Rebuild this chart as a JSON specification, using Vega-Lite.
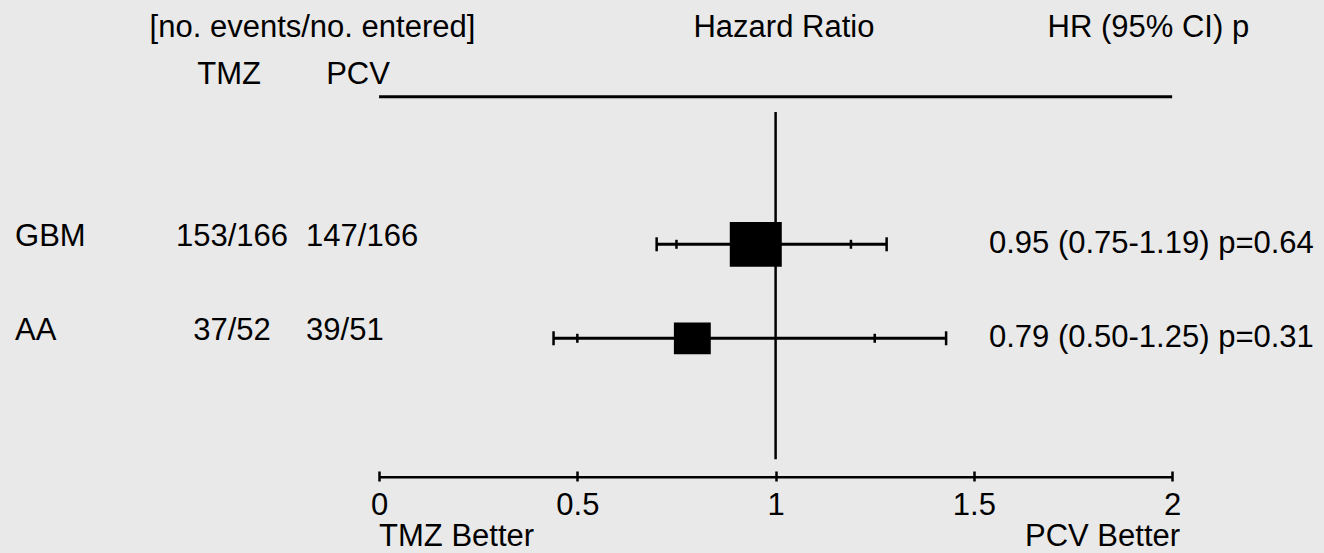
{
  "$schema": "https://vega.github.io/schema/vega-lite/v6.json",
  "width": 1324,
  "height": 471,
  "autosize": {"type": "none"},
  "padding": {"left": 0, "top": 0, "right": 0, "bottom": 82},
  "background": "#e9e9e9",
  "config": {
    "view": {"stroke": null},
    "font": "Liberation Sans",
    "text": {"font": "Liberation Sans", "fontSize": 31, "color": "black"}
  },
  "datasets": {
    "rows": [
      {"group": "GBM", "row": 1, "tmz": "153/166", "pcv": "147/166", "hr": 0.95, "lo95": 0.75, "hi95": 1.19, "lo99": 0.70, "hi99": 1.28, "events": 300, "summary": "0.95 (0.75-1.19) p=0.64"},
      {"group": "AA", "row": 2, "tmz": "37/52", "pcv": "39/51", "hr": 0.79, "lo95": 0.50, "hi95": 1.25, "lo99": 0.44, "hi99": 1.43, "events": 76, "summary": "0.79 (0.50-1.25) p=0.31"}
    ],
    "one": [{}]
  },
  "layer": [
    {
      "data": {"name": "rows"},
      "mark": {"type": "rule", "strokeWidth": 3, "color": "black"},
      "encoding": {
        "x": {"field": "lo99", "type": "quantitative", "scale": {"domain": [-0.956, 2.383], "nice": false, "zero": false},
          "axis": {"orient": "bottom", "values": [0, 0.5, 1, 1.5, 2], "format": "~g", "title": null, "domain": false, "grid": false, "ticks": true, "tickSize": 10, "tickWidth": 2.5, "tickColor": "black", "labelFont": "Liberation Sans", "labelFontSize": 31, "labelColor": "black", "labelPadding": 9, "labelFlush": false, "labelOverlap": false}},
        "x2": {"field": "hi99"},
        "y": {"field": "row", "type": "quantitative", "scale": {"domain": [-1.599, 3.412], "nice": false, "zero": false, "reverse": true}, "axis": null}
      }
    },
    {
      "data": {"name": "one"},
      "mark": {"type": "rule", "strokeWidth": 3, "color": "black"},
      "encoding": {
        "x": {"datum": 0, "type": "quantitative"},
        "x2": {"datum": 2},
        "y": {"datum": -0.570, "type": "quantitative", "axis": null}
      }
    },
    {
      "data": {"name": "one"},
      "mark": {"type": "rule", "strokeWidth": 2.5, "color": "black"},
      "encoding": {
        "x": {"datum": 1, "type": "quantitative"},
        "y": {"datum": -0.407, "type": "quantitative", "axis": null},
        "y2": {"datum": 3.287}
      }
    },
    {
      "data": {"name": "one"},
      "mark": {"type": "rule", "strokeWidth": 2.5, "color": "black"},
      "encoding": {
        "x": {"datum": 0, "type": "quantitative"},
        "x2": {"datum": 2},
        "y": {"datum": 3.479, "type": "quantitative", "axis": null}
      }
    },
    {
      "data": {"name": "rows"},
      "transform": [{"fold": ["lo99", "hi99"], "as": ["k", "v"]}],
      "mark": {"type": "tick", "orient": "vertical", "size": 14, "thickness": 2.5, "color": "black", "opacity": 1},
      "encoding": {
        "x": {"field": "v", "type": "quantitative"},
        "y": {"field": "row", "type": "quantitative", "axis": null}
      }
    },
    {
      "data": {"name": "rows"},
      "transform": [{"fold": ["lo95", "hi95"], "as": ["k", "v"]}],
      "mark": {"type": "tick", "orient": "vertical", "size": 9, "thickness": 2.5, "color": "black", "opacity": 1},
      "encoding": {
        "x": {"field": "v", "type": "quantitative"},
        "y": {"field": "row", "type": "quantitative", "axis": null}
      }
    },
    {
      "data": {"name": "rows"},
      "mark": {"type": "point", "shape": "M-1,-0.86L1,-0.86L1,0.86L-1,0.86Z", "filled": true, "color": "black", "opacity": 1, "strokeWidth": 0},
      "encoding": {
        "x": {"field": "hr", "type": "quantitative"},
        "y": {"field": "row", "type": "quantitative", "axis": null},
        "size": {"field": "events", "type": "quantitative", "scale": {"type": "sqrt", "domain": [0, 300], "range": [0, 2704], "zero": true}, "legend": null}
      }
    },
    {
      "data": {"name": "rows"},
      "mark": {"type": "text", "align": "left", "baseline": "alphabetic", "dy": 1.4},
      "encoding": {
        "x": {"datum": -0.918, "type": "quantitative"},
        "y": {"field": "row", "type": "quantitative", "axis": null},
        "text": {"field": "group"}
      }
    },
    {
      "data": {"name": "rows"},
      "mark": {"type": "text", "align": "center", "baseline": "alphabetic", "dy": 1.4},
      "encoding": {
        "x": {"datum": -0.371, "type": "quantitative"},
        "y": {"field": "row", "type": "quantitative", "axis": null},
        "text": {"field": "tmz"}
      }
    },
    {
      "data": {"name": "rows"},
      "mark": {"type": "text", "align": "left", "baseline": "alphabetic", "dy": 1.4},
      "encoding": {
        "x": {"datum": -0.184, "type": "quantitative"},
        "y": {"field": "row", "type": "quantitative", "axis": null},
        "text": {"field": "pcv"}
      }
    },
    {
      "data": {"name": "rows"},
      "mark": {"type": "text", "align": "left", "baseline": "alphabetic", "dy": 9},
      "encoding": {
        "x": {"datum": 1.538, "type": "quantitative"},
        "y": {"field": "row", "type": "quantitative", "axis": null},
        "text": {"field": "summary"}
      }
    },
    {
      "data": {"name": "one"},
      "mark": {"type": "text", "align": "center", "baseline": "alphabetic", "text": "[no. events/no. entered]"},
      "encoding": {
        "x": {"datum": -0.168, "type": "quantitative"},
        "y": {"datum": -1.205, "type": "quantitative", "axis": null}
      }
    },
    {
      "data": {"name": "one"},
      "mark": {"type": "text", "align": "center", "baseline": "alphabetic", "text": "Hazard Ratio"},
      "encoding": {
        "x": {"datum": 1.021, "type": "quantitative"},
        "y": {"datum": -1.205, "type": "quantitative", "axis": null}
      }
    },
    {
      "data": {"name": "one"},
      "mark": {"type": "text", "align": "center", "baseline": "alphabetic", "text": "HR (95% CI) p"},
      "encoding": {
        "x": {"datum": 1.940, "type": "quantitative"},
        "y": {"datum": -1.205, "type": "quantitative", "axis": null}
      }
    },
    {
      "data": {"name": "one"},
      "mark": {"type": "text", "align": "center", "baseline": "alphabetic", "text": "TMZ"},
      "encoding": {
        "x": {"datum": -0.378, "type": "quantitative"},
        "y": {"datum": -0.705, "type": "quantitative", "axis": null}
      }
    },
    {
      "data": {"name": "one"},
      "mark": {"type": "text", "align": "center", "baseline": "alphabetic", "text": "PCV"},
      "encoding": {
        "x": {"datum": -0.053, "type": "quantitative"},
        "y": {"datum": -0.705, "type": "quantitative", "axis": null}
      }
    },
    {
      "data": {"name": "one"},
      "mark": {"type": "text", "align": "left", "baseline": "alphabetic", "text": "TMZ Better"},
      "encoding": {
        "x": {"datum": 0, "type": "quantitative"},
        "y": {"datum": 4.214, "type": "quantitative", "axis": null}
      }
    },
    {
      "data": {"name": "one"},
      "mark": {"type": "text", "align": "right", "baseline": "alphabetic", "text": "PCV Better"},
      "encoding": {
        "x": {"datum": 2.02, "type": "quantitative"},
        "y": {"datum": 4.214, "type": "quantitative", "axis": null}
      }
    }
  ]
}
